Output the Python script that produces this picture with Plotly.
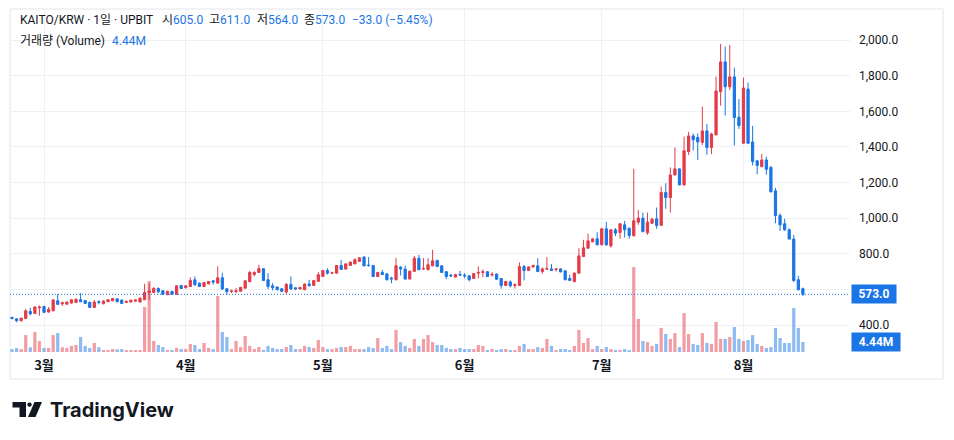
import pandas as pd
import plotly.graph_objects as go

# daily candles KAITO/KRW (UPBIT), first bar 2025-02-22
start_date = "2025-02-22"
open_ = [444, 436, 425, 438, 477, 466, 498, 505, 474, 481, 537, 520, 518, 524, 528, 543, 539, 528, 500, 532,
         520, 532, 537, 548, 541, 528, 530, 535, 530, 543, 582, 583, 606, 593, 571, 590, 573, 623, 610, 617,
         655, 636, 617, 632, 649, 636, 666, 604, 590, 588, 590, 608, 644, 685, 696, 717, 655, 621, 614, 604,
         586, 629, 610, 603, 599, 631, 623, 646, 673, 707, 692, 692, 735, 715, 735, 744, 758, 782, 737, 735,
         673, 696, 688, 665, 655, 726, 715, 659, 702, 776, 715, 711, 733, 763, 733, 700, 681, 670, 685, 681,
         677, 662, 692, 696, 700, 681, 687, 662, 623, 643, 623, 623, 729, 707, 727, 733, 701, 714, 716, 712,
         716, 705, 662, 645, 692, 785, 832, 868, 885, 851, 941, 845, 935, 920, 963, 944, 902, 978, 1001, 918,
         972, 997, 960, 1144, 1116, 1243, 1277, 1187, 1374, 1462, 1453, 1426, 1490, 1397, 1468, 1710, 1877, 1738, 1793, 1567,
         1421, 1725, 1428, 1322, 1290, 1327, 1285, 1154, 1015, 969, 935, 883, 655, 605]
high = [447, 438, 442, 490, 498, 507, 510, 509, 502, 548, 575, 533, 533, 545, 549, 580, 541, 532, 541, 540,
        541, 547, 552, 550, 544, 540, 545, 545, 557, 632, 636, 614, 612, 596, 593, 592, 623, 626, 624, 668,
        674, 640, 643, 648, 652, 730, 694, 606, 600, 608, 615, 651, 705, 702, 739, 720, 692, 636, 617, 607,
        636, 674, 612, 615, 634, 655, 654, 698, 710, 719, 700, 738, 767, 747, 757, 776, 781, 788, 782, 738,
        699, 710, 691, 672, 778, 730, 734, 706, 789, 795, 776, 776, 823, 768, 736, 703, 688, 688, 705, 692,
        680, 693, 730, 712, 703, 698, 690, 665, 650, 651, 636, 752, 738, 730, 740, 776, 724, 782, 743, 720,
        719, 708, 684, 697, 832, 879, 913, 890, 922, 944, 980, 938, 945, 972, 985, 947, 1277, 1047, 1032, 1032,
        1002, 1060, 1178, 1197, 1285, 1397, 1280, 1458, 1484, 1476, 1476, 1626, 1529, 1480, 1795, 1978, 1963, 1972, 1845, 1669,
        1789, 1761, 1518, 1326, 1361, 1346, 1294, 1170, 1028, 997, 944, 907, 677, 611]
low = [433, 417, 421, 436, 455, 464, 453, 469, 470, 478, 513, 509, 516, 522, 524, 529, 520, 497, 498, 517,
       518, 530, 535, 528, 518, 524, 528, 531, 528, 541, 541, 580, 580, 569, 569, 571, 571, 604, 607, 615,
       621, 614, 615, 629, 628, 634, 600, 571, 580, 580, 588, 606, 642, 674, 694, 648, 602, 595, 596, 585,
       576, 600, 599, 600, 597, 615, 620, 644, 670, 684, 688, 690, 710, 712, 733, 742, 756, 730, 728, 670,
       670, 680, 651, 636, 652, 679, 656, 657, 700, 709, 710, 709, 731, 727, 693, 659, 669, 668, 677, 664,
       646, 660, 662, 670, 671, 673, 655, 606, 620, 612, 606, 620, 651, 705, 724, 698, 690, 712, 705, 701,
       697, 652, 648, 640, 690, 783, 830, 865, 848, 849, 845, 836, 900, 885, 892, 885, 898, 963, 920, 907,
       968, 941, 958, 1053, 1032, 1240, 1185, 1185, 1355, 1380, 1327, 1411, 1356, 1360, 1465, 1632, 1576, 1720, 1408, 1501,
       1416, 1416, 1296, 1247, 1286, 1244, 1146, 972, 929, 930, 883, 642, 596, 564]
close = [438, 425, 440, 481, 464, 502, 502, 472, 490, 541, 517, 526, 530, 543, 546, 532, 522, 500, 530, 528,
         535, 543, 550, 532, 522, 533, 540, 542, 551, 584, 593, 606, 588, 573, 590, 573, 621, 606, 621, 651,
         627, 617, 640, 645, 642, 666, 603, 588, 592, 593, 612, 649, 696, 696, 717, 651, 617, 610, 599, 590,
         629, 603, 603, 612, 631, 623, 651, 683, 707, 692, 694, 735, 713, 744, 754, 767, 778, 733, 735, 673,
         696, 685, 655, 660, 733, 715, 659, 703, 776, 711, 718, 739, 761, 729, 696, 673, 677, 685, 681, 677,
         655, 690, 696, 700, 673, 685, 658, 623, 645, 621, 627, 729, 707, 727, 735, 701, 716, 718, 707, 716,
         699, 655, 651, 692, 789, 834, 873, 884, 851, 941, 851, 935, 916, 969, 935, 903, 986, 1001, 926, 978,
         995, 960, 1144, 1116, 1243, 1277, 1187, 1378, 1462, 1440, 1428, 1490, 1397, 1473, 1714, 1877, 1738, 1793, 1565, 1520,
         1731, 1421, 1318, 1296, 1327, 1275, 1148, 1015, 963, 935, 883, 651, 599, 573]
volume_m = [1.3, 1.7, 1.3, 7.5, 2.1, 8.9, 4.9, 1.8, 1.8, 7.5, 8.4, 2.1, 1.8, 2.7, 3.1, 6.7, 2.7, 1.8, 4.0, 2.1,
            0.9, 0.9, 1.3, 1.2, 1.3, 0.9, 0.9, 0.9, 0.9, 20.0, 31.5, 4.9, 3.1, 2.2, 0.9, 0.9, 1.8, 1.3, 1.3, 3.6,
            3.1, 1.3, 4.0, 1.8, 1.3, 24.9, 8.9, 6.7, 1.3, 4.9, 2.2, 7.1, 2.7, 1.3, 2.2, 0.9, 2.7, 1.8, 1.3, 1.3,
            2.2, 3.1, 1.3, 1.3, 2.7, 2.2, 1.8, 5.3, 2.2, 1.3, 1.3, 1.8, 2.2, 2.2, 2.7, 1.3, 1.3, 1.3, 2.2, 1.8,
            6.2, 1.8, 2.7, 1.3, 9.8, 4.4, 2.7, 1.8, 5.8, 2.7, 5.8, 7.5, 4.4, 3.1, 3.1, 1.8, 1.3, 1.3, 1.8, 1.3,
            1.3, 1.3, 3.1, 2.7, 0.9, 1.3, 0.9, 1.3, 1.3, 0.9, 0.9, 2.7, 3.6, 1.3, 1.3, 2.2, 1.8, 5.8, 2.7, 0.9,
            1.3, 1.3, 0.9, 2.7, 9.8, 4.0, 6.2, 1.3, 2.7, 1.3, 2.2, 1.3, 0.9, 0.9, 1.3, 0.9, 37.7, 14.7, 4.9, 4.4,
            2.7, 3.6, 10.7, 8.0, 5.8, 8.4, 2.2, 17.3, 8.0, 3.6, 3.1, 8.4, 4.0, 3.6, 13.3, 5.8, 5.8, 6.7, 11.1, 5.8,
            4.9, 5.3, 7.5, 3.6, 2.7, 1.8, 2.2, 10.7, 6.2, 4.0, 4.0, 19.5, 10.7, 4.44]

month_ticks = ["2025-03-01", "2025-04-01", "2025-05-01", "2025-06-01", "2025-07-01", "2025-08-01"]
month_labels = ["3월", "4월", "5월", "6월", "7월", "8월"]

last_close = 573.0
last_volume = "4.44M"

dates = pd.date_range(start_date, periods=len(close), freq="D")

UP = "#E33B48"
DOWN = "#1A75E6"
UP_VOL = "rgba(227,59,72,0.5)"
DOWN_VOL = "rgba(26,117,230,0.5)"
TEXT = "#131722"
GRID = "#EFF0F3"
FONT = "Roboto, 'Noto Sans CJK KR', sans-serif"

vol_colors = [UP_VOL if c >= o else DOWN_VOL for o, c in zip(open_, close)]

# the page body has an 8px margin, so the figure is drawn 8px smaller and
# all positions below are given in page pixels
BODY = 8
W, H = 954 - 2 * BODY, 440 - 2 * BODY
PL, PR, PT, PB = 10, 850, 9, 352


def px(x):
    return (x - PL) / (PR - PL)


def py(y):
    return (PB - y) / (PB - PT)


fig = go.Figure()

fig.add_trace(go.Candlestick(
    x=dates, open=open_, high=high, low=low, close=close,
    increasing=dict(line=dict(color=UP, width=1), fillcolor=UP),
    decreasing=dict(line=dict(color=DOWN, width=1), fillcolor=DOWN),
    whiskerwidth=0, hoverinfo="skip", showlegend=False,
))

fig.add_trace(go.Bar(
    x=dates, y=volume_m, marker=dict(color=vol_colors, line=dict(width=0)),
    yaxis="y2", hoverinfo="skip", showlegend=False,
))

# current price line
fig.add_shape(type="line", xref="paper", x0=0, x1=1, yref="y", y0=last_close, y1=last_close,
              line=dict(color=DOWN, width=1, dash="1px,2px"))

# outer widget border
fig.add_shape(type="rect", xref="paper", yref="paper", x0=px(10), x1=px(943), y0=py(379), y1=py(9),
              line=dict(color="#E3E5EA", width=1), layer="below")

ann = []
# price / volume tags on the scale
ann.append(dict(xref="paper", x=px(851), xanchor="left", yref="y", y=last_close, yanchor="middle",
                text="<b>%.1f</b>" % last_close, showarrow=False, bgcolor=DOWN, width=42, height=16,
                font=dict(family=FONT, size=12, color="white")))
ann.append(dict(xref="paper", x=px(851), xanchor="left", yref="y2", y=volume_m[-1], yanchor="middle",
                text="<b>%s</b>" % last_volume, showarrow=False, bgcolor=DOWN, width=46, height=16,
                font=dict(family=FONT, size=12, color="white")))


# header legend
def blue(t):
    return "<span style='color:%s'>%s</span>" % (DOWN, t)


header = [
    (18, 20, "KAITO/KRW · 1일 · UPBIT"),
    (160, 20, "시" + blue("%.1f" % open_[-1])),
    (207, 20, "고" + blue("%.1f" % high[-1])),
    (255, 20, "저" + blue("%.1f" % low[-1])),
    (302, 20, "종" + blue("%.1f" % close[-1])),
    (350, 20, blue("−33.0 (−5.45%)")),
    (18, 41, "거래량 (Volume)"),
    (110, 41, blue(last_volume)),
]
for x, y, t in header:
    ann.append(dict(xref="paper", yref="paper", x=px(x), y=py(y), xanchor="left", yanchor="middle",
                    text=t, showarrow=False, font=dict(family=FONT, size=12, color=TEXT)))

# TradingView wordmark
ann.append(dict(xref="paper", yref="paper", x=px(48), y=py(410), xanchor="left", yanchor="middle",
                text="<b>TradingView</b>", showarrow=False,
                font=dict(family="Inter, 'Open Sans', sans-serif", size=20, color=TEXT)))


def path(points):
    return "M " + " L ".join("%.5f,%.5f" % (px(a), py(b)) for a, b in points) + " Z"


fig.add_shape(type="path", xref="paper", yref="paper", line=dict(width=0), fillcolor=TEXT,
              path=path([(12.5, 402), (26, 402), (26, 417), (19.5, 417), (19.5, 407.5), (12.5, 407.5)]))
fig.add_shape(type="circle", xref="paper", yref="paper", line=dict(width=0), fillcolor=TEXT,
              x0=px(27.3), x1=px(31.7), y0=py(406.8), y1=py(402.4))
fig.add_shape(type="path", xref="paper", yref="paper", line=dict(width=0), fillcolor=TEXT,
              path=path([(34.5, 402), (42, 402), (35.5, 417), (28, 417)]))

fig.update_layout(
    width=W, height=H,
    margin=dict(l=PL - BODY, r=W - (PR - BODY), t=PT - BODY, b=H - (PB - BODY)),
    paper_bgcolor="white", plot_bgcolor="white",
    bargap=0.3,
    annotations=ann,
    xaxis=dict(
        type="date", range=["2025-02-21 13:26", "2025-08-24 07:12"],
        tickvals=month_ticks, ticktext=month_labels,
        showgrid=True, gridcolor=GRID, gridwidth=1, zeroline=False, showline=False,
        ticks="", ticklabelstandoff=4,
        tickfont=dict(family="'Noto Sans CJK KR', sans-serif", size=13, color=TEXT, weight="bold"),
        rangeslider=dict(visible=False), fixedrange=True,
    ),
    yaxis=dict(
        side="right", range=[249.7, 2173.9], tick0=0, dtick=200, tickformat=",.1f",
        showgrid=True, gridcolor=GRID, gridwidth=1, zeroline=False, showline=False,
        ticks="", ticklabelstandoff=8,
        tickfont=dict(family=FONT, size=12, color=TEXT),
    ),
    yaxis2=dict(overlaying="y", range=[0, 152.3], visible=False),
)

fig.write_html("out.html")
